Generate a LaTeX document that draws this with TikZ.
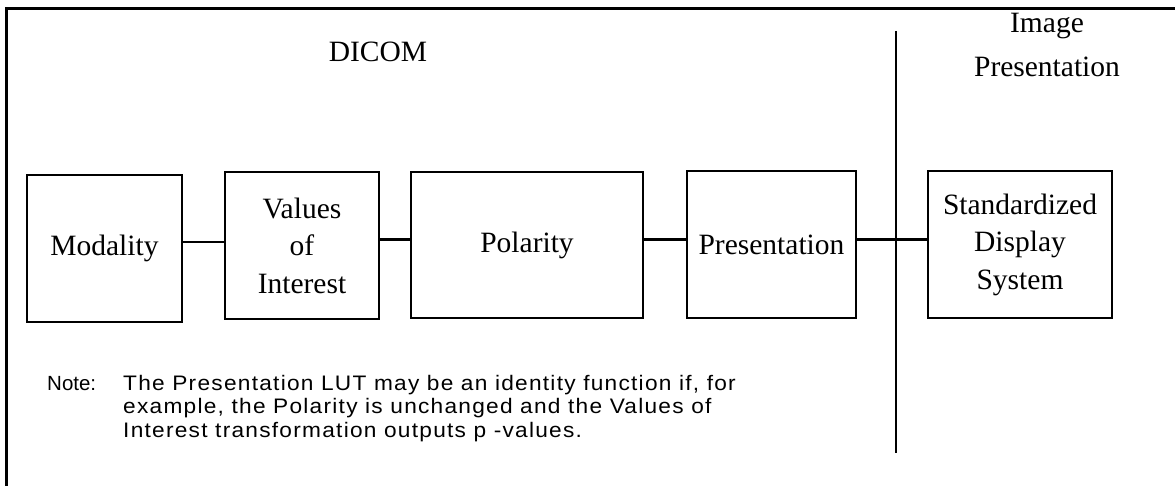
\documentclass[tikz,border=0pt]{standalone}
\usepackage{fontspec}
\setmainfont{Liberation Serif}
\newfontfamily\notefont{Liberation Sans}
\newfontfamily\notefontsp[LetterSpace=6,FakeStretch=1.08]{Liberation Sans}
\begin{document}
\begin{tikzpicture}[x=1pt,y=-1pt,
  box/.style={draw,line width=2.4pt,inner sep=0pt,align=center,
    font=\fontsize{29.5}{37.5}\selectfont},
  conn/.style={line width=2.4pt},
  hdr/.style={inner sep=0pt,align=center,font=\fontsize{29.5}{44}\selectfont},
  note/.style={inner sep=0pt,anchor=base west,align=left}]
\useasboundingbox (0,0) rectangle (1175,486);
\draw[line width=3pt] (6.5,486) -- (6.5,8.5) -- (1175,8.5);
\node[box,minimum width=155pt,minimum height=147pt] (mod) at (104.5,248.5) {Modality};
\node[box,minimum width=154pt,minimum height=147pt] (voi) at (302,245.5) {Values\\of\\Interest};
\node[box,minimum width=232pt,minimum height=146pt] (pol) at (527,245) {Polarity};
\node[box,minimum width=169pt,minimum height=147pt] (pre) at (771.5,244.5) {Presentation};
\node[box,minimum width=184pt,minimum height=147pt] (std) at (1020,244.5) {Standardized\\Display\\System};
\coordinate (lvlA) at (0,242);
\coordinate (lvlB) at (0,239.5);
\draw[conn] (mod.east |- lvlA) -- (voi.west |- lvlA);
\draw[conn] (voi.east |- lvlB) -- (pol.west |- lvlB);
\draw[conn] (pol.east |- lvlB) -- (pre.west |- lvlB);
\draw[conn] (pre.east |- lvlB) -- (std.west |- lvlB);
\coordinate (vt) at (896,31);
\coordinate (vb) at (896,453);
\draw[line width=2.2pt] (vt) -- (vb);
\node[hdr,anchor=base] (dicom) at (378,62) {DICOM};
\node[hdr,anchor=base] (imgp) at (1047,77) {Image\\Presentation};
\node[note,font=\notefont\fontsize{20.5}{23.5}\selectfont] (nlab) at (47,390) {Note:};
\node[note,font=\notefontsp\fontsize{21}{23.5}\selectfont] (ntxt) at (123,437)
  {The Presentation LUT may be an identity function if, for\\
   example, the Polarity is unchanged and the Values of\\
   Interest transformation outputs p -values.};
\end{tikzpicture}
\end{document}
